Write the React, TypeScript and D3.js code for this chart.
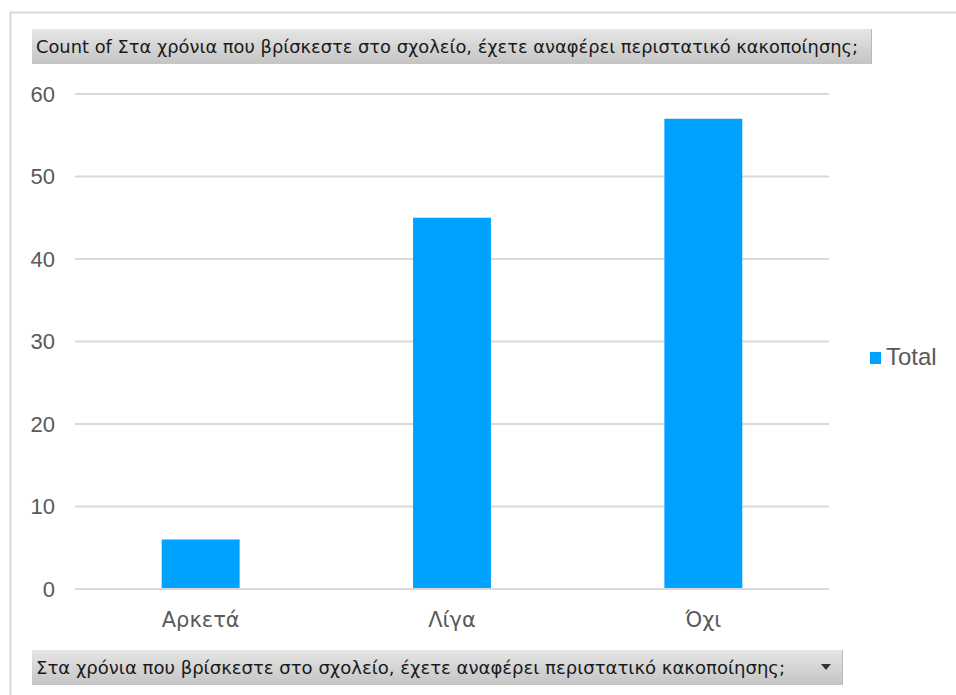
import React from "react";
import * as d3 from "d3";

const categories = ["Αρκετά", "Λίγα", "Όχι"];
const values = [6, 45, 57];
const yTicks = [0, 10, 20, 30, 40, 50, 60];
const seriesName = "Total";
const headerText = "Count of Στα χρόνια που βρίσκεστε στο σχολείο, έχετε αναφέρει περιστατικό κακοποίησης;";
const fieldText = "Στα χρόνια που βρίσκεστε στο σχολείο, έχετε αναφέρει περιστατικό κακοποίησης;";

export default function App() {
  const W = 956, H = 695;
  const x = d3.scaleBand<string>().domain(categories).range([75, 829]).paddingInner(0.69).paddingOuter(0.345);
  const y = d3.scaleLinear().domain([0, 60]).range([589, 94]);
  const barColor = "#00A2FF";
  const textColor = "#595959";
  return (
    <svg width={W} height={H} style={{ position: "absolute", left: 0, top: 0 }} fontFamily="Liberation Sans, Arial, sans-serif">
      <defs>
        <linearGradient id="btn" x1="0" y1="0" x2="0" y2="1">
          <stop offset="0" stopColor="#e6e6e6" />
          <stop offset="1" stopColor="#c4c4c4" />
        </linearGradient>
      </defs>
      <rect x={0} y={0} width={W} height={H} fill="#fff" />
      <rect x={10.5} y={12.5} width={W + 10} height={H + 10} fill="#fff" stroke="#d9d9d9" strokeWidth={2} />
      {/* header */}
      <rect x={32} y={29} width={840} height={35} fill="url(#btn)" />
      <line x1={871.5} y1={29} x2={871.5} y2={64} stroke="#b8b8b8" />
      <text x={36} y={53} fontSize={18} fontFamily="DejaVu Sans Condensed, sans-serif" fill="#1a1a1a" textLength={822} lengthAdjust="spacingAndGlyphs">{headerText}</text>
      {/* grid */}
      {yTicks.map((t) => (
        <g key={t}>
          <line x1={75} x2={829} y1={y(t)} y2={y(t)} stroke="#d9d9d9" strokeWidth={2} />
          <text x={55} y={y(t)} dy="0.36em" textAnchor="end" fontSize={22} fill={textColor}>{t}</text>
        </g>
      ))}
      {/* bars */}
      {categories.map((c, i) => (
        <rect key={c} x={x(c)} y={y(values[i])} width={x.bandwidth()} height={y(0) - y(values[i])} fill={barColor} />
      ))}
      <line x1={75} x2={829} y1={y(0)} y2={y(0)} stroke="#d9d9d9" strokeWidth={2} />
      {categories.map((c) => (
        <text key={c} x={(x(c) as number) + x.bandwidth() / 2} y={627} textAnchor="middle" fontSize={21} fontFamily="DejaVu Sans, sans-serif" fill={textColor}>{c}</text>
      ))}
      {/* legend */}
      <rect x={870} y={352} width={11} height={12} fill={barColor} />
      <text x={886} y={365} fontSize={24} fill={textColor}>{seriesName}</text>
      {/* field button */}
      <rect x={32} y={650} width={811} height={35} fill="url(#btn)" />
      <line x1={842.5} y1={650} x2={842.5} y2={685} stroke="#b8b8b8" />
      <text x={36} y={674} fontSize={18} fontFamily="DejaVu Sans Condensed, sans-serif" fill="#1a1a1a" textLength={749} lengthAdjust="spacingAndGlyphs">{fieldText}</text>
      <path d="M821,664 L831,664 L826,670 Z" fill="#333" />
    </svg>
  );
}
